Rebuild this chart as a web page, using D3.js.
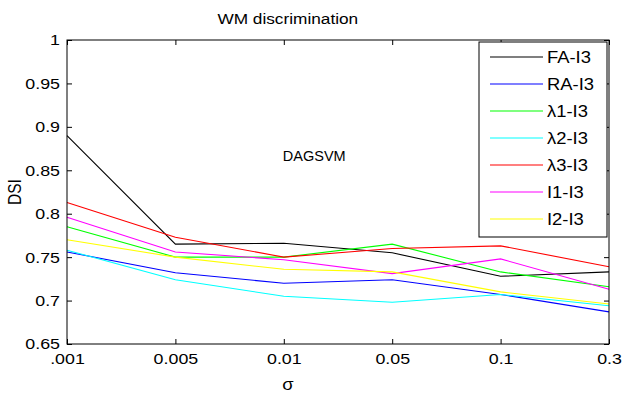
<!DOCTYPE html>
<html>
<head>
<meta charset="utf-8">
<script src="https://cdn.jsdelivr.net/npm/d3@7"></script>
<style>
	body { margin: 0; background: #fff; }
	svg { display: block; font-family: 'Liberation Sans', Arial, sans-serif; }
	.axis path, .axis line { stroke: #000; }
	.series { fill: none; stroke-width: 1.1; }
</style>
</head>
<body>
<svg id="chart"></svg>
<script>
const SIGMA = ['.001', '0.005', '0.01', '0.05', '0.1', '0.3'];
const Y_TICKS = [0.65, 0.7, 0.75, 0.8, 0.85, 0.9, 0.95, 1];

const FA = [0.890, 0.765, 0.766, 0.755, 0.728, 0.733];
const RA = [0.756, 0.732, 0.720, 0.724, 0.707, 0.687];
const L1 = [0.785, 0.750, 0.750, 0.765, 0.733, 0.716];
const L2 = [0.758, 0.724, 0.705, 0.698, 0.707, 0.694];
const L3 = [0.813, 0.773, 0.750, 0.760, 0.763, 0.739];
const I1 = [0.796, 0.756, 0.747, 0.731, 0.748, 0.713];
const I2 = [0.770, 0.750, 0.736, 0.733, 0.710, 0.696];

const NAMES = ['FA-I3', 'RA-I3', 'λ1-I3', 'λ2-I3', 'λ3-I3', 'I1-I3', 'I2-I3'];
const COLORS = ['#000000', '#0000ff', '#00ff00', '#00ffff', '#ff0000', '#ff00ff', '#ffff00'];
const SERIES = [FA, RA, L1, L2, L3, I1, I2];

const W = 623;
const H = 399;
const M = { top: 40, right: 14, bottom: 55, left: 67 };
const SX = 1.15; // text in the picture is a bit wider than plain Arial

const $svg = d3.select('#chart').attr('width', W).attr('height', H);

const x = d3.scalePoint().domain(SIGMA).range([M.left, W - M.right]);
const y = d3.scaleLinear().domain([0.65, 1]).range([H - M.bottom, M.top]);

function stretch($t) {
	$t.attr('transform', `scale(${SX},1)`);
}

function setup() {
	const $lines = $svg.append('g');
	SERIES.forEach((vals, i) => {
		const line = d3.line().x((d, j) => x(SIGMA[j])).y(d => y(d));
		$lines.append('path')
			.attr('class', 'series')
			.attr('stroke', COLORS[i])
			.attr('d', line(vals));
	});

	// frame
	$svg.append('rect')
		.attr('x', M.left).attr('y', M.top)
		.attr('width', W - M.right - M.left).attr('height', H - M.bottom - M.top)
		.attr('fill', 'none').attr('stroke', '#000');

	const fontSize = 15.5;
	const $left = $svg.append('g').attr('class', 'axis')
		.attr('transform', `translate(${M.left},0)`)
		.call(d3.axisLeft(y).tickValues(Y_TICKS).tickFormat(d => String(d)).tickSize(-5).tickPadding(6));
	$left.selectAll('text').attr('font-size', fontSize).attr('x', -7 / SX).call(stretch);

	const $bottom = $svg.append('g').attr('class', 'axis')
		.attr('transform', `translate(0,${H - M.bottom})`)
		.call(d3.axisBottom(x).tickSize(-5).tickPadding(9));
	$bottom.selectAll('text').attr('font-size', fontSize).attr('x', 0).call(stretch);

	$svg.append('g').attr('class', 'axis')
		.attr('transform', `translate(${W - M.right},0)`)
		.call(d3.axisRight(y).tickValues(Y_TICKS).tickFormat('').tickSize(-5));
	$svg.append('g').attr('class', 'axis')
		.attr('transform', `translate(0,${M.top})`)
		.call(d3.axisTop(x).tickFormat('').tickSize(-5));
	$svg.selectAll('.axis .domain').remove();

	// title and axis names sit over the 0.01 column in the picture
	const cx = x('0.01') + 4;
	$svg.append('text')
		.attr('transform', `translate(${cx},24) scale(${SX},1)`)
		.attr('text-anchor', 'middle').attr('font-size', 15)
		.text('WM discrimination');

	$svg.append('text')
		.attr('transform', `translate(${cx},390) scale(${SX},1)`)
		.attr('text-anchor', 'middle').attr('font-size', 16)
		.text('σ');

	$svg.append('text')
		.attr('transform', `translate(21,${(M.top + H - M.bottom) / 2}) rotate(-90) scale(1,${SX})`)
		.attr('text-anchor', 'middle').attr('font-size', 15.5)
		.text('DSI');

	$svg.append('text')
		.attr('x', x('0.01') - 1).attr('y', y(0.861))
		.attr('font-size', 14.5)
		.text('DAGSVM');

	// legend
	const lx = 479;
	const ly = 42;
	const lw = W - M.right - 2 - lx;
	const step = 27;
	const $leg = $svg.append('g').attr('transform', `translate(${lx},${ly})`);
	$leg.append('rect')
		.attr('width', lw).attr('height', step * NAMES.length + 6)
		.attr('fill', '#fff').attr('stroke', '#000');
	NAMES.forEach((name, i) => {
		const ey = 15 + i * step;
		$leg.append('line')
			.attr('x1', 11).attr('x2', 64).attr('y1', ey).attr('y2', ey)
			.attr('stroke', COLORS[i]).attr('stroke-width', 1.1);
		$leg.append('text')
			.attr('transform', `translate(68,${ey}) scale(${SX},1)`)
			.attr('dy', '0.36em').attr('font-size', 16)
			.text(name);
	});
}

setup();
</script>
</body>
</html>
